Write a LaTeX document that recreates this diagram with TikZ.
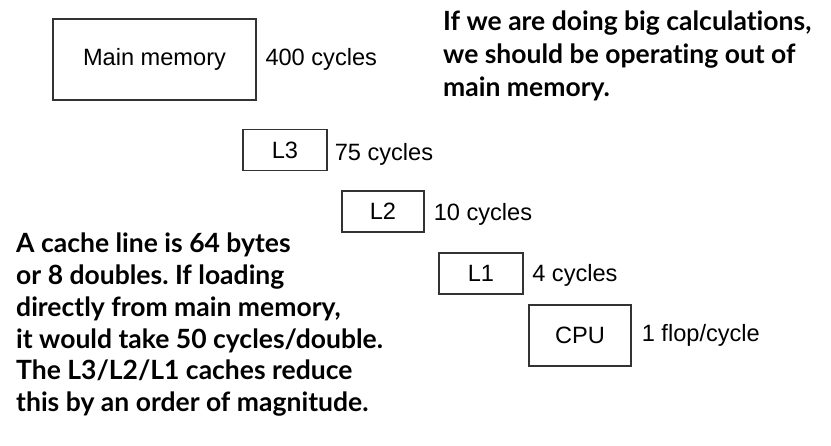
\documentclass[tikz,border=0pt]{standalone}
\usepackage{fontspec}
\setmainfont{Liberation Sans}
\newfontfamily\notefont{Lato}[Ligatures=NoCommon]
\usetikzlibrary{calc}
\frenchspacing
\begin{document}
\begin{tikzpicture}[x=1pt,y=-1pt,
  box/.style={draw=black!80,line width=1.2pt,inner sep=0pt,
    font=\fontsize{23.6}{27}\selectfont},
  lbl/.style={anchor=base west,inner sep=0pt,
    font=\fontsize{23.6}{27}\selectfont},
  note/.style={anchor=base west,inner sep=0pt,align=left,
    font=\notefont\bfseries\fontsize{26.5}{#1}\selectfont}]
\useasboundingbox[fill=white] (0,0) rectangle (831,446);

% memory hierarchy boxes
\node[box,minimum width=203pt,minimum height=81pt] (mm)  at (154.5,59.5) {Main memory};
\node[box,minimum width=84pt, minimum height=41pt] (l3)  at (285,150)    {L3};
\node[box,minimum width=82pt, minimum height=41pt] (l2)  at (383,211.5)  {L2};
\node[box,minimum width=84pt, minimum height=41pt] (l1)  at (481,273.5)  {L1};
\node[box,minimum width=102pt,minimum height=61pt] (cpu) at (580,335.5)  {CPU};

% latencies
\node[lbl] (mmt)  at ($(mm.east)+(8.7,6.2)$)   {400 cycles};
\node[lbl] (l3t)  at ($(l3.east)+(7,10.7)$)    {75 cycles};
\node[lbl] (l2t)  at ($(l2.east)+(9,9.2)$)     {10 cycles};
\node[lbl] (l1t)  at ($(l1.east)+(8.5,8.2)$)   {4 cycles};
\node[lbl] (cput) at ($(cpu.east)+(10,6.2)$)   {1 flop/cycle};

% annotations (anchored at the baseline of their last line)
\node[note=32.7] (topnote) at (443,96.4) {If we are doing big calculations,\\we should be operating out of\\main memory.};
\node[note=31.7] (leftnote) at (16,411.5) {A cache line is 64 bytes\\or 8 doubles. If loading\\directly from main memory,\\it would take 50 cycles/double.\\The L3/L2/L1 caches reduce\\this by an order of magnitude.};
\end{tikzpicture}
\end{document}
